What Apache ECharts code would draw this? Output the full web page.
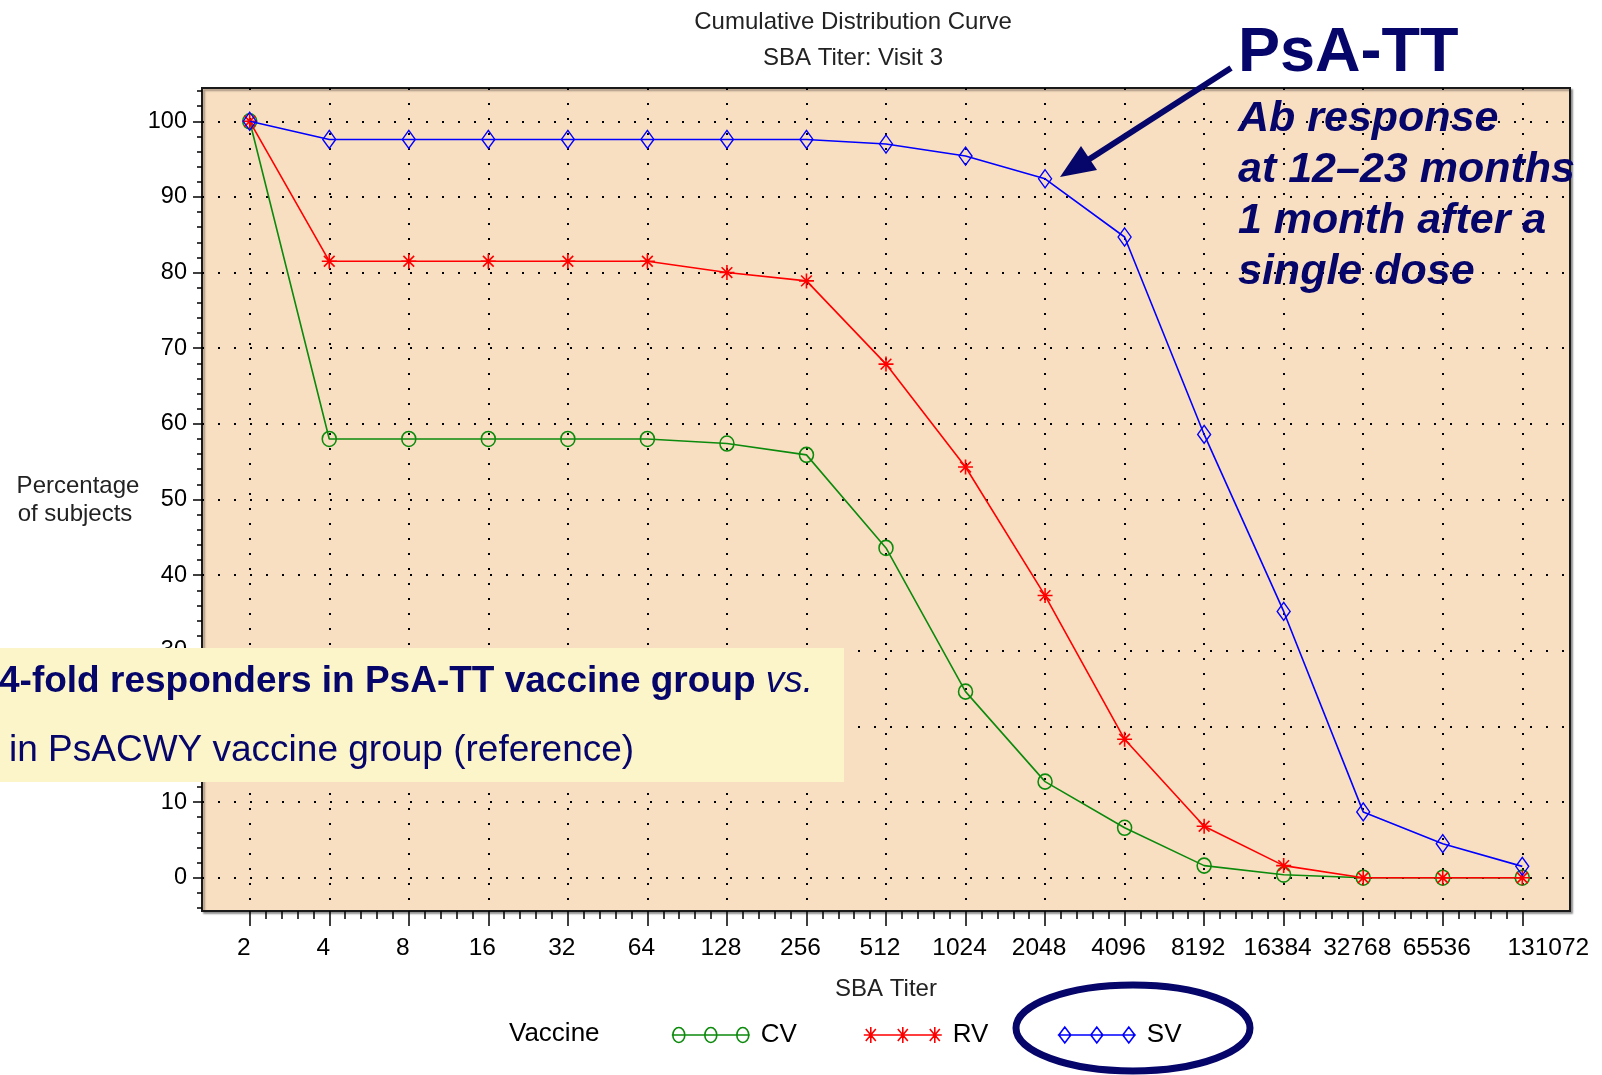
<!DOCTYPE html>
<html><head><meta charset="utf-8">
<script src="https://cdn.jsdelivr.net/npm/echarts@6/dist/echarts.min.js"></script>
<style>html,body{margin:0;padding:0;background:#fff}#c{width:1602px;height:1075px}</style>
</head><body><div id="c"></div>
<script>
const categories = ['2','4','8','16','32','64','128','256','512','1024','2048','4096','8192','16384','32768','65536','131072'];
const cvValues = [100, 58, 58, 58, 58, 58, 57.4, 55.9, 43.6, 24.6, 12.7, 6.6, 1.6, 0.4, 0, 0, 0];
const rvValues = [100, 81.5, 81.5, 81.5, 81.5, 81.5, 80.0, 78.9, 67.9, 54.3, 37.3, 18.3, 6.8, 1.6, 0, 0, 0];
const svValues = [100, 97.6, 97.6, 97.6, 97.6, 97.6, 97.6, 97.6, 97.0, 95.4, 92.4, 84.7, 58.6, 35.2, 8.7, 4.5, 1.5];
const yTickValues = [0, 10, 20, 30, 40, 50, 60, 70, 80, 90, 100];
const seriesNames = ['CV', 'RV', 'SV'];

const NAVY = '#05056a';
const GREEN = '#0c8a0c', RED = '#ff0000', BLUE = '#0000ff';
const FONT = '"Liberation Sans", Arial, sans-serif';

const xIdx = categories.map((c, i) => i);
const minorX = [];
for (let i = 0; i < categories.length - 1; i++) for (let k = 1; k < 5; k++) minorX.push(i + k / 5);
const minorY = [];
for (let v = -4; v <= 104; v += 2) if (v % 10 !== 0) minorY.push(v);
const pts = arr => arr.map((v, i) => [i, v]);

// legend icon paths (line with three markers)
function circlesPath() {
  let p = 'path://M0 8L78 8';
  [7, 39, 71].forEach(c => { p += `M${c-6} 8A6 7.5 0 1 0 ${c+6} 8A6 7.5 0 1 0 ${c-6} 8`; });
  return p;
}
function starsPath() {
  let p = 'path://M0 8L78 8';
  [7, 39, 71].forEach(c => { p += `M${c-7} 8L${c+7} 8M${c} 0L${c} 16M${c-5} 2L${c+5} 14M${c-5} 14L${c+5} 2`; });
  return p;
}
function diamondsPath() {
  let p = 'path://M0 8L78 8';
  [7, 39, 71].forEach(c => { p += `M${c-6} 8L${c} 0L${c+6} 8L${c} 16Z`; });
  return p;
}
const STAR = 'path://M-7 0L7 0M0 -7L0 7M-5 -5L5 5M-5 5L5 -5';

const chart = echarts.init(document.getElementById('c'), null, { renderer: 'canvas' });

function legendFor(name, icon, color, left) {
  return {
    left: left, top: 1017, orient: 'horizontal', selectedMode: false,
    itemWidth: 78, itemHeight: 16,
    textStyle: { fontFamily: FONT, fontSize: 26, color: '#000', padding: [0, 0, 0, 6] },
    data: [{ name: name, icon: icon, itemStyle: { color: 'rgba(0,0,0,0)', borderColor: color, borderWidth: 1.6 } }]
  };
}

function xLabel(v) {
  const i = Math.round(v);
  if (i === categories.length - 1) return '{r|' + categories[i] + '}';
  return '{n|' + categories[i] + '}';
}

const option = {
  animation: false,
  backgroundColor: '#ffffff',
  grid: {
    left: 202, top: 88, right: 32, bottom: 164, show: true,
    backgroundColor: '#f9dfc2', borderColor: '#1a1a1a', borderWidth: 2,
    shadowColor: 'rgba(0,0,0,0.35)', shadowBlur: 2, shadowOffsetX: 2, shadowOffsetY: 2
  },
  xAxis: [{
    type: 'value', min: -0.6, max: 16.6, position: 'bottom',
    axisLine: { show: false, onZero: false },
    axisTick: { show: true, customValues: xIdx, length: 15, lineStyle: { color: '#000', width: 1.5 } },
    axisLabel: {
      customValues: xIdx, formatter: xLabel, margin: 25,
      rich: {
        n: { fontFamily: FONT, fontSize: 24.5, color: '#000', padding: [0, 12, 0, 0] },
        r: { fontFamily: FONT, fontSize: 24.5, color: '#000', padding: [0, 0, 0, 52] }
      }
    },
    splitLine: { show: true, lineStyle: { color: '#000', width: 2, type: [2, 13] } },
    name: 'SBA Titer', nameLocation: 'middle', nameGap: 66,
    nameTextStyle: { fontFamily: FONT, fontSize: 24, color: '#222' }
  }, {
    type: 'value', min: -0.6, max: 16.6, position: 'bottom',
    axisLine: { show: false, onZero: false },
    axisTick: { show: true, customValues: minorX, length: 8, lineStyle: { color: '#000', width: 1.5 } },
    axisLabel: { show: false }, splitLine: { show: false }
  }],
  yAxis: [{
    type: 'value', min: -4.4, max: 104.4, position: 'left',
    axisLine: { show: false, onZero: false },
    axisTick: { show: true, customValues: yTickValues, length: 9, lineStyle: { color: '#000', width: 1.5 } },
    axisLabel: { customValues: yTickValues, fontFamily: FONT, fontSize: 23.5, color: '#000', margin: 15 },
    splitLine: { show: true, lineStyle: { color: '#000', width: 2, type: [2, 14] } }
  }, {
    type: 'value', min: -4.4, max: 104.4, position: 'left',
    axisLine: { show: false, onZero: false },
    axisTick: { show: true, customValues: minorY, length: 5, lineStyle: { color: '#000', width: 1.5 } },
    axisLabel: { show: false }, splitLine: { show: false }
  }],
  legend: [
    legendFor(seriesNames[0], circlesPath(), GREEN, 666),
    legendFor(seriesNames[1], starsPath(), RED, 858),
    legendFor(seriesNames[2], diamondsPath(), BLUE, 1052)
  ],
  series: [{
    name: seriesNames[0], type: 'line', data: pts(cvValues), color: GREEN,
    symbol: 'circle', symbolSize: [14, 15],
    lineStyle: { color: GREEN, width: 1.6 },
    itemStyle: { color: 'rgba(0,0,0,0)', borderColor: GREEN, borderWidth: 1.6 }, z: 3
  }, {
    name: seriesNames[1], type: 'line', data: pts(rvValues), color: RED,
    symbol: STAR, symbolSize: 15,
    lineStyle: { color: RED, width: 1.6 },
    itemStyle: { color: RED, borderColor: RED, borderWidth: 1.6 }, z: 4
  }, {
    name: seriesNames[2], type: 'line', data: pts(svValues), color: BLUE,
    symbol: 'diamond', symbolSize: [13, 18],
    lineStyle: { color: BLUE, width: 1.6 },
    itemStyle: { color: 'rgba(0,0,0,0)', borderColor: BLUE, borderWidth: 1.4 }, z: 5
  }],
  graphic: [
    { type: 'text', x: 853, y: 22, z: 50, style: { text: 'Cumulative Distribution Curve', fontFamily: FONT, fontSize: 24, fill: '#222', align: 'center', verticalAlign: 'middle' } },
    { type: 'text', x: 853, y: 58, z: 50, style: { text: 'SBA Titer: Visit 3', fontFamily: FONT, fontSize: 24, fill: '#222', align: 'center', verticalAlign: 'middle' } },
    { type: 'text', x: 78, y: 486, z: 50, style: { text: 'Percentage', fontFamily: FONT, fontSize: 24, fill: '#222', align: 'center', verticalAlign: 'middle' } },
    { type: 'text', x: 75, y: 514, z: 50, style: { text: 'of subjects', fontFamily: FONT, fontSize: 24, fill: '#222', align: 'center', verticalAlign: 'middle' } },
    { type: 'text', x: 509, y: 1034, z: 50, style: { text: 'Vaccine', fontFamily: FONT, fontSize: 26, fill: '#000', align: 'left', verticalAlign: 'middle' } },
    { type: 'ellipse', z: 60, shape: { cx: 1133, cy: 1028, rx: 117, ry: 43 }, style: { fill: 'none', stroke: NAVY, lineWidth: 7 } },
    // yellow note box
    { type: 'rect', z: 70, shape: { x: 0, y: 648, width: 844, height: 134 }, style: { fill: '#fcf5c9' } },
    { type: 'text', x: -1, y: 682, z: 71, style: {
        text: '{b|4-fold responders in PsA-TT vaccine group }{i|vs.}',
        verticalAlign: 'middle', align: 'left',
        rich: {
          b: { fontFamily: FONT, fontSize: 37, fontWeight: 'bold', fill: NAVY },
          i: { fontFamily: FONT, fontSize: 37, fontStyle: 'italic', fill: NAVY }
        } } },
    { type: 'text', x: 9, y: 751, z: 71, style: { text: 'in PsACWY vaccine group (reference)', fontFamily: FONT, fontSize: 37, fill: NAVY, align: 'left', verticalAlign: 'middle' } },
    // PsA-TT annotation
    { type: 'text', x: 1238, y: 54, z: 71, style: { text: 'PsA-TT', fontFamily: FONT, fontSize: 63, fontWeight: 'bold', fill: NAVY, align: 'left', verticalAlign: 'middle' } },
    { type: 'text', x: 1238, y: 119, z: 71, style: { text: 'Ab response', fontFamily: FONT, fontSize: 43, fontWeight: 'bold', fontStyle: 'italic', fill: NAVY, align: 'left', verticalAlign: 'middle' } },
    { type: 'text', x: 1238, y: 170, z: 71, style: { text: 'at 12\u201323 months', fontFamily: FONT, fontSize: 43, fontWeight: 'bold', fontStyle: 'italic', fill: NAVY, align: 'left', verticalAlign: 'middle' } },
    { type: 'text', x: 1238, y: 221, z: 71, style: { text: '1 month after a', fontFamily: FONT, fontSize: 43, fontWeight: 'bold', fontStyle: 'italic', fill: NAVY, align: 'left', verticalAlign: 'middle' } },
    { type: 'text', x: 1238, y: 272, z: 71, style: { text: 'single dose', fontFamily: FONT, fontSize: 43, fontWeight: 'bold', fontStyle: 'italic', fill: NAVY, align: 'left', verticalAlign: 'middle' } },
    { type: 'line', z: 72, shape: { x1: 1231, y1: 68, x2: 1088, y2: 160 }, style: { stroke: NAVY, lineWidth: 6 } },
    { type: 'polygon', z: 72, shape: { points: [[1060, 177], [1097, 170], [1081, 146]] }, style: { fill: NAVY } }
  ]
};
chart.setOption(option);
</script>
</body></html>
